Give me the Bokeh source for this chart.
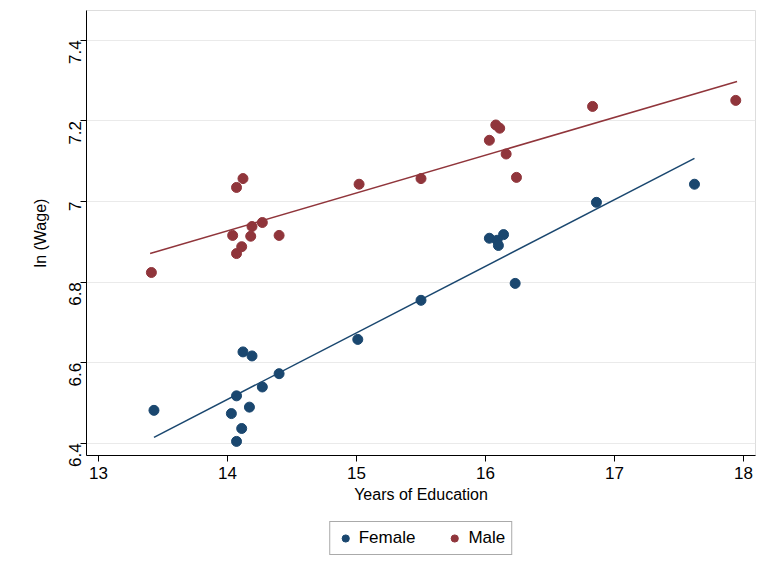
import math
from bokeh.plotting import figure
from bokeh.layouts import column
from bokeh.models import Legend, FixedTicker
from bokeh.embed import file_html
from bokeh.resources import INLINE

female_x = [13.43, 14.03, 14.07, 14.07, 14.11, 14.12, 14.19, 14.17, 14.27, 14.40,
            15.01, 15.50, 16.03, 16.09, 16.10, 16.14, 16.23, 16.86, 17.62]
female_y = [6.482, 6.474, 6.518, 6.405, 6.437, 6.627, 6.617, 6.490, 6.540, 6.573,
            6.658, 6.755, 6.909, 6.904, 6.891, 6.918, 6.797, 6.998, 7.043]
female_fit_x = [13.43, 17.62]
female_fit_y = [6.415, 7.107]

male_x = [13.41, 14.04, 14.07, 14.07, 14.11, 14.12, 14.19, 14.18, 14.27, 14.40,
          15.02, 15.50, 16.03, 16.08, 16.11, 16.16, 16.24, 16.83, 17.94]
male_y = [6.824, 6.916, 7.035, 6.871, 6.888, 7.057, 6.938, 6.914, 6.948, 6.916,
          7.043, 7.057, 7.152, 7.190, 7.182, 7.118, 7.060, 7.236, 7.251]
male_fit_x = [13.40, 17.95]
male_fit_y = [6.871, 7.298]

x_ticks = [13, 14, 15, 16, 17, 18]
y_ticks = [6.4, 6.6, 6.8, 7.0, 7.2, 7.4]
y_labels = {6.4: "6.4", 6.6: "6.6", 6.8: "6.8", 7.0: "7", 7.2: "7.2", 7.4: "7.4"}

navy = "#1a476f"
maroon = "#90353b"
font = "Liberation Sans"

p = figure(frame_width=669, frame_height=445, x_range=(12.907, 18.093), y_range=(6.370, 7.474),
           output_backend="svg", toolbar_location=None,
           min_border_left=86, min_border_right=8, min_border_top=10, min_border_bottom=0)
p.outline_line_color = "#dddddd"
p.xgrid.grid_line_color = None
p.ygrid.grid_line_color = "#eaeaea"

p.scatter(female_x, female_y, size=10, color=navy)
p.line(female_fit_x, female_fit_y, color=navy, line_width=1.5)
p.scatter(male_x, male_y, size=10, color=maroon)
p.line(male_fit_x, male_fit_y, color=maroon, line_width=1.5)

p.xaxis.ticker = FixedTicker(ticks=x_ticks)
p.yaxis.ticker = FixedTicker(ticks=y_ticks)
p.yaxis.major_label_overrides = y_labels
p.yaxis.major_label_orientation = math.pi / 2
p.xaxis.axis_label = "Years of Education"
p.yaxis.axis_label = "ln (Wage)"
for ax in (p.xaxis[0], p.yaxis[0]):
    ax.axis_label_text_font = font
    ax.axis_label_text_font_size = "16px"
    ax.axis_label_text_font_style = "normal"
    ax.axis_label_text_color = "black"
    ax.major_label_text_font = font
    ax.major_label_text_font_size = "17px"
    ax.major_label_text_color = "black"
    ax.minor_tick_line_color = None
    ax.major_tick_in = 0
    ax.major_tick_out = 6
    ax.axis_label_standoff = 4
p.yaxis.axis_label_standoff = 12

# legend lives in its own strip under the chart; its glyphs sit off-screen
lg = figure(width=763, height=50, output_backend="svg", toolbar_location=None,
            x_range=(0, 1), y_range=(0, 1), min_border=0)
lg.axis.visible = False
lg.grid.visible = False
lg.outline_line_color = None
f = lg.scatter([-5], [-5], size=13, color=navy)
m = lg.scatter([-5], [-5], size=13, color=maroon)
legend = Legend(items=[("Female", [f]), ("Male", [m])], orientation="horizontal",
                location="center", label_text_font=font, label_text_font_size="17px",
                label_text_color="black", glyph_width=18,
                border_line_color="#555555", spacing=30, padding=6, margin=0)
lg.add_layout(legend)

open("out.html", "w").write(file_html(column(p, lg, spacing=8), INLINE))
